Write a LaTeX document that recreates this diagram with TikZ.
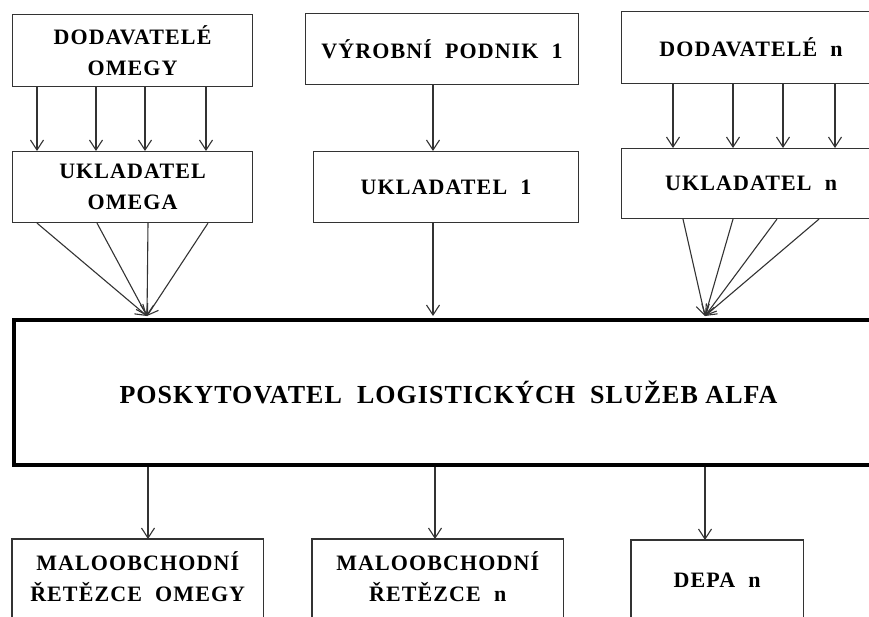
\documentclass[tikz,border=0pt]{standalone}
\usepackage{fontspec}
\setmainfont{Liberation Serif}
\usetikzlibrary{arrows.meta}
\begin{document}
\begin{tikzpicture}[x=1pt,y=-1pt,
  box/.style={draw=black!80,line width=1.1pt,rectangle,anchor=north west,
    inner sep=0pt,align=center,text=black},
  textonly/.style={rectangle,anchor=north west,inner sep=0pt,align=center,text=black},
  boxline/.style={draw=black!80,line width=1.1pt},
  toptxt/.style={font=\fontsize{22}{31}\selectfont\bfseries\addfontfeature{LetterSpace=5}},
  bigtxt/.style={font=\fontsize{26}{30}\selectfont\bfseries\addfontfeature{LetterSpace=4}},
  arr/.style={draw=black!80,line width=1.1pt,-{Straight Barb[length=10pt,width=13pt,line width=1.1pt]}}]
\useasboundingbox (0,0) rectangle (869,616);
\clip (0,0) rectangle (869,616);

% suppliers and warehouses
\node[box,toptxt,minimum width=240pt,minimum height=72pt] (a1) at (12,14) {DODAVATELÉ\\OMEGY};
\node[box,toptxt,minimum width=240pt,minimum height=71pt] (a2) at (12,151) {UKLADATEL\\OMEGA};
\node[box,toptxt,minimum width=273pt,minimum height=71pt] (b1) at (305,13) {VÝROBNÍ\ \ PODNIK\ \ 1};
\node[box,toptxt,minimum width=265pt,minimum height=71pt] (b2) at (313,151) {UKLADATEL\ \ 1};
\node[box,toptxt,minimum width=259pt,minimum height=72pt] (c1) at (621,11) {DODAVATELÉ\ \ n};
\node[box,toptxt,minimum width=259pt,minimum height=70pt] (c2) at (621,148) {UKLADATEL\ \ n};

% logistics provider
\node[box,bigtxt,draw=black,line width=4pt,minimum width=869pt,minimum height=145pt] (big) at (12,318)
  {POSKYTOVATEL\ \ LOGISTICKÝCH\ \ SLUŽEB ALFA};

% customers: boxes run on below the lower edge
\node[textonly,toptxt,minimum width=251pt,minimum height=74pt] (d1) at (12,539) {MALOOBCHODNÍ\\ŘETĚZCE\ \ OMEGY};
\node[textonly,toptxt,minimum width=251pt,minimum height=74pt] (d2) at (312,539) {MALOOBCHODNÍ\\ŘETĚZCE\ \ n};
\node[textonly,toptxt,minimum width=172pt,minimum height=80pt] (d3) at (631,540) {DEPA\ \ n};
\foreach \n in {d1,d2,d3}
  \draw[boxline] (\n.north west) rectangle ([yshift=-30pt]\n.south east);

% supplier flows
\foreach \x in {37,96,145,206}
  \draw[arr] (\x,0 |- a1.south) -- (\x,0 |- a2.north);
\draw[arr] (433,0 |- b1.south) -- (433,0 |- b2.north);
\foreach \x in {673,733,783,835}
  \draw[arr] (\x,0 |- c1.south) -- (\x,0 |- c2.north);

% warehouse flows into the provider
\foreach \x in {37,97,148,208}
  \draw[arr] (\x,0 |- a2.south) -- (147,316);
\draw[arr] (433,0 |- b2.south) -- (433,316);
\foreach \x in {683,733,777,819}
  \draw[arr] (\x,0 |- c2.south) -- (705,316);

% distribution
\draw[arr] (148,0 |- big.south) -- (148,0 |- d1.north);
\draw[arr] (435,0 |- big.south) -- (435,0 |- d2.north);
\draw[arr] (705,0 |- big.south) -- (705,0 |- d3.north);
\end{tikzpicture}
\end{document}
